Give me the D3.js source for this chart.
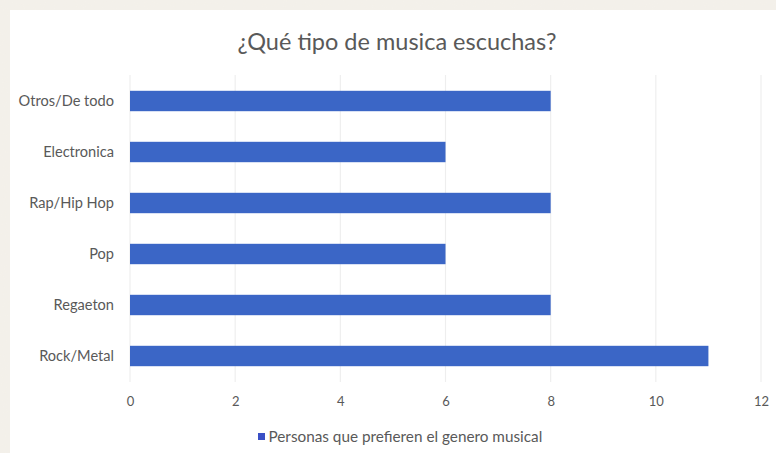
<!DOCTYPE html>
<html>
<head>
<meta charset="utf-8">
<script src="https://cdn.jsdelivr.net/npm/d3@7"></script>
<style>
  html, body { margin: 0; padding: 0; background: #f3f0ea; }
  svg { display: block; }
  text { font-family: Lato, "Open Sans", sans-serif; fill: #595959; }
</style>
</head>
<body>
<svg id="chart" width="776" height="453"></svg>
<script>
// Genres as listed top to bottom
const categories = ["Otros/De todo", "Electronica", "Rap/Hip Hop", "Pop", "Regaeton", "Rock/Metal"];
// People who prefer each genre
const values = [8, 6, 8, 6, 8, 11];
const xTicks = [0, 2, 4, 6, 8, 10, 12];
const seriesName = "Personas que prefieren el genero musical";
const title = "¿Qué tipo de musica escuchas?";

const svg = d3.select("#chart");
const W = 776, H = 453;

// textured paper behind the card
const defs = svg.append("defs");
const f = defs.append("filter").attr("id", "grain");
f.append("feTurbulence").attr("type", "fractalNoise").attr("baseFrequency", 0.9).attr("numOctaves", 2).attr("result", "n");
f.append("feColorMatrix").attr("in", "n").attr("type", "matrix")
  .attr("values", "0 0 0 0 0.85  0 0 0 0 0.82  0 0 0 0 0.76  0 0 0 0.25 0");
svg.append("rect").attr("width", W).attr("height", H).attr("fill", "#f4f1eb");
svg.append("rect").attr("width", W).attr("height", H).attr("filter", "url(#grain)");

// white chart card
svg.append("rect").attr("x", 10).attr("y", 10).attr("width", W - 10).attr("height", H - 10).attr("fill", "#ffffff");

const x = d3.scaleLinear().domain([0, 12]).range([130, 761]);
const y = d3.scaleBand().domain(categories).range([75.5, 381.5]).paddingInner(0.6).paddingOuter(0.3);

// vertical gridlines
svg.append("g").selectAll("line").data(xTicks).join("line")
  .attr("x1", d => x(d)).attr("x2", d => x(d))
  .attr("y1", 75).attr("y2", 382)
  .attr("stroke", "#eeeeee").attr("stroke-width", 1.2);

// bars
svg.append("g").selectAll("rect").data(values).join("rect")
  .attr("x", x(0))
  .attr("y", (d, i) => y(categories[i]))
  .attr("width", d => x(d) - x(0))
  .attr("height", y.bandwidth())
  .attr("fill", "#3b66c6");

// x axis labels
const xAxis = svg.append("g").attr("transform", "translate(0,397)")
  .call(d3.axisBottom(x).tickValues(xTicks).tickSize(0).tickPadding(0));
xAxis.select(".domain").remove();
xAxis.selectAll("text").attr("font-size", 13).attr("fill", "#666666")
  .style("font-family", "Lato, 'Open Sans', sans-serif");

// category labels
const yAxis = svg.append("g").attr("transform", `translate(${x(0) - 16},0)`)
  .call(d3.axisLeft(y).tickSize(0).tickPadding(0));
yAxis.select(".domain").remove();
yAxis.selectAll("text").attr("font-size", 14.6).attr("fill", "#595959")
  .style("font-family", "Lato, 'Open Sans', sans-serif");

// title
svg.append("text").attr("x", 397).attr("y", 50).attr("text-anchor", "middle")
  .attr("font-size", 23.5).text(title);

// legend
const lg = svg.append("g").attr("transform", "translate(258,433)");
lg.append("rect").attr("x", 0).attr("y", 0).attr("width", 7).attr("height", 7).attr("fill", "#3a50c6");
lg.append("text").attr("x", 10.5).attr("y", 8.5).attr("font-size", 15.3).text(seriesName);
</script>
</body>
</html>
